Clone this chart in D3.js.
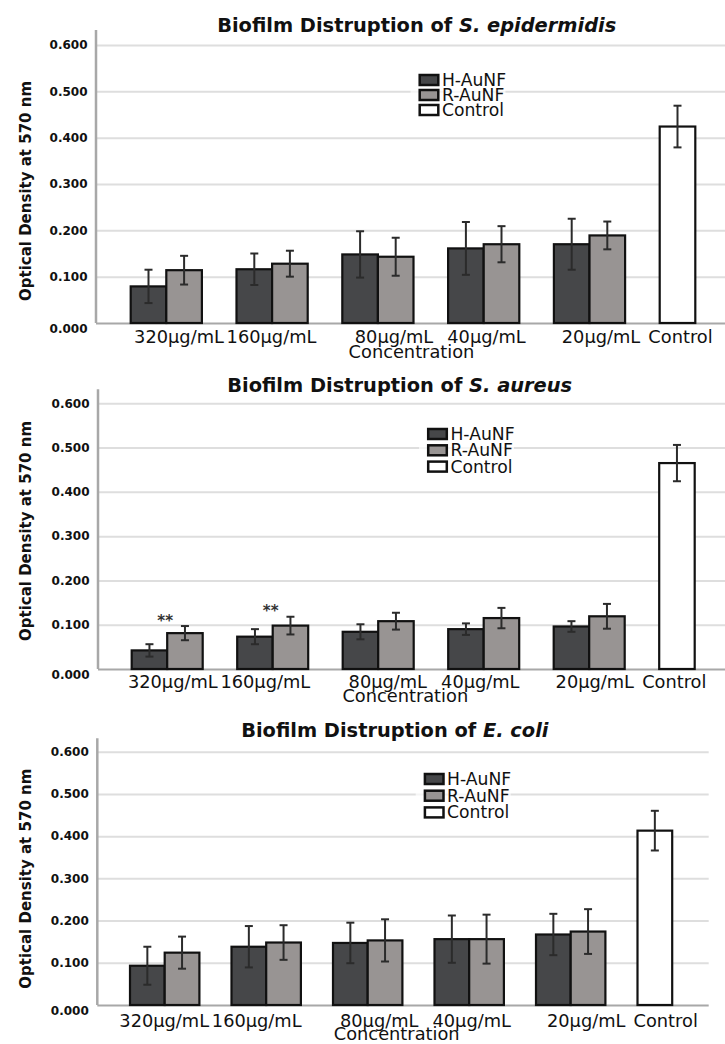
<!DOCTYPE html>
<html>
<head>
<meta charset="utf-8">
<script src="https://cdn.jsdelivr.net/npm/d3@7"></script>
<style>
  body { margin: 0; background: #fff; }
  svg { display: block; font-family: "DejaVu Sans", sans-serif; }
</style>
</head>
<body>
<script>
// categories and tick values
const categories = ["320µg/mL", "160µg/mL", "80µg/mL", "40µg/mL", "20µg/mL", "Control"];
const seriesNames = ["H-AuNF", "R-AuNF", "Control"];
const yTicks = [0, 0.1, 0.2, 0.3, 0.4, 0.5, 0.6];

// S. epidermidis
const epiH = [0.079, 0.116, 0.148, 0.161, 0.170];
const epiHErr = [0.036, 0.034, 0.050, 0.057, 0.055];
const epiR = [0.114, 0.128, 0.143, 0.170, 0.189];
const epiRErr = [0.031, 0.028, 0.041, 0.039, 0.030];
const epiControl = 0.424;
const epiControlErr = 0.045;

// S. aureus
const aurH = [0.042, 0.073, 0.084, 0.090, 0.096];
const aurHErr = [0.014, 0.017, 0.017, 0.013, 0.012];
const aurR = [0.081, 0.098, 0.108, 0.115, 0.119];
const aurRErr = [0.016, 0.020, 0.019, 0.023, 0.028];
const aurControl = 0.465;
const aurControlErr = 0.041;
const aurStars = ["**", "**", "", "", ""];

// E. coli
const colH = [0.093, 0.138, 0.147, 0.156, 0.167];
const colHErr = [0.045, 0.049, 0.048, 0.056, 0.049];
const colR = [0.124, 0.148, 0.153, 0.156, 0.174];
const colRErr = [0.038, 0.041, 0.050, 0.058, 0.053];
const colControl = 0.413;
const colControlErr = 0.047;

const colors = { "H-AuNF": "#464749", "R-AuNF": "#989493", "Control": "#ffffff" };

// layout of each panel (the reference panels are slightly different in size)
const panels = [
  { species: "S. epidermidis", H: epiH, HErr: epiHErr, R: epiR, RErr: epiRErr, ctrl: epiControl, ctrlErr: epiControlErr, stars: null,
    yTop: 45, yBase: 323, axisX: 96, axisTop: 30, right: 725, bandStart: 130.7, step: 105.8, barW: 35.6,
    titleX: 416.7, titleY: 32.3, legX: 418.5, legY: 86, legPitch: 15, labelStart: 179, labelY: 343.3, concY: 358.3, yTitleY: 191 },
  { species: "S. aureus", H: aurH, HErr: aurHErr, R: aurR, RErr: aurRErr, ctrl: aurControl, ctrlErr: aurControlErr, stars: aurStars,
    yTop: 403.3, yBase: 669, axisX: 98, axisTop: 389.3, right: 725, bandStart: 131.7, step: 105.5, barW: 35.5,
    titleX: 399.7, titleY: 391.7, legX: 427, legY: 440, legPitch: 16.3, labelStart: 172.8, labelY: 687.5, concY: 701.7, yTitleY: 531 },
  { species: "E. coli", H: colH, HErr: colHErr, R: colR, RErr: colRErr, ctrl: colControl, ctrlErr: colControlErr, stars: null,
    yTop: 751.7, yBase: 1005, axisX: 97.3, axisTop: 738.3, right: 708.7, bandStart: 130, step: 101.5, barW: 34.7,
    titleX: 394.8, titleY: 736.7, legX: 423.7, legY: 785, legPitch: 16.7, labelStart: 164.2, labelY: 1026.7, concY: 1040, yTitleY: 878.7 }
];
// category labels sit a little unevenly in the original
const labelOffsets = [0, 92.5, 215, 307.5, 422, 501.5];
const concOffset = 232.5;

const svg = d3.select("body").append("svg")
  .attr("width", 725)
  .attr("height", 1044);

panels.forEach(p => {
  const g = svg.append("g");

  const y = d3.scaleLinear().domain([0, 0.6]).range([p.yBase, p.yTop]);

  const pad = 1 - 2 * p.barW / p.step;
  const x0 = p.bandStart - pad * p.step / 2;
  const x = d3.scaleBand()
    .domain(categories)
    .range([x0, x0 + categories.length * p.step])
    .paddingInner(pad)
    .paddingOuter(pad / 2);
  const xs = d3.scaleBand()
    .domain(["H-AuNF", "R-AuNF"])
    .range([0, x.bandwidth()]);

  // gridlines + tick labels
  const yAxis = g.append("g")
    .attr("transform", "translate(" + p.axisX + ",0)")
    .call(d3.axisLeft(y).tickValues(yTicks).tickSize(-(p.right - p.axisX)).tickPadding(8.5).tickFormat(d3.format(".3f")));
  yAxis.select(".domain").remove();
  yAxis.selectAll(".tick line")
    .attr("stroke", d => d === 0 ? "#a8a8a8" : "#dedede")
    .attr("stroke-width", 2);
  yAxis.selectAll(".tick text")
    .attr("font-size", 12)
    .attr("font-weight", "bold")
    .attr("fill", "#111")
    .attr("font-family", "DejaVu Sans")
    .attr("dy", d => d === 0 ? "0.75em" : "0.32em");

  // y axis line
  g.append("line")
    .attr("x1", p.axisX).attr("x2", p.axisX)
    .attr("y1", p.axisTop).attr("y2", p.yBase)
    .attr("stroke", "#a8a8a8")
    .attr("stroke-width", 2.5);

  // bars
  const rows = [];
  p.H.forEach((v, i) => {
    rows.push({ cat: categories[i], s: "H-AuNF", v: v, e: p.HErr[i] });
    rows.push({ cat: categories[i], s: "R-AuNF", v: p.R[i], e: p.RErr[i] });
  });
  rows.push({ cat: "Control", s: "Control", v: p.ctrl, e: p.ctrlErr });
  const bx = d => x(d.cat) + xs(d.s === "Control" ? "H-AuNF" : d.s);

  g.selectAll(".bar")
    .data(rows)
    .enter().append("rect")
    .attr("class", "bar")
    .attr("x", bx)
    .attr("y", d => y(d.v))
    .attr("width", xs.bandwidth())
    .attr("height", d => y(0) - y(d.v))
    .attr("fill", d => colors[d.s])
    .attr("stroke", "#111")
    .attr("stroke-width", 2.2);

  // error bars
  const eb = g.selectAll(".err")
    .data(rows)
    .enter().append("g")
    .attr("class", "err")
    .attr("transform", d => "translate(" + (bx(d) + xs.bandwidth() / 2) + ",0)")
    .attr("stroke", "#2b2b2b")
    .attr("stroke-width", 2);
  eb.append("line").attr("y1", d => y(d.v + d.e)).attr("y2", d => y(d.v - d.e));
  eb.append("line").attr("x1", -4).attr("x2", 4).attr("y1", d => y(d.v + d.e)).attr("y2", d => y(d.v + d.e));
  eb.append("line").attr("x1", -4).attr("x2", 4).attr("y1", d => y(d.v - d.e)).attr("y2", d => y(d.v - d.e));

  // significance marks
  if (p.stars) {
    g.selectAll(".star")
      .data(p.stars.map((s, i) => ({ s: s, cat: categories[i], top: p.R[i] + p.RErr[i] })).filter(d => d.s))
      .enter().append("text")
      .attr("x", d => x(d.cat) + x.bandwidth() / 2 - 2)
      .attr("y", d => y(d.top) - 11)
      .attr("dy", "0.7em")
      .attr("text-anchor", "middle")
      .attr("font-size", 15)
      .attr("font-weight", "bold")
      .attr("fill", "#333")
      .text(d => d.s);
  }

  // category labels
  g.selectAll(".cat")
    .data(categories)
    .enter().append("text")
    .attr("x", (d, i) => p.labelStart + labelOffsets[i])
    .attr("y", p.labelY)
    .attr("text-anchor", "middle")
    .attr("font-size", 17.8)
    .attr("fill", "#111")
    .text(d => d);

  g.append("text")
    .attr("x", p.labelStart + concOffset)
    .attr("y", p.concY)
    .attr("text-anchor", "middle")
    .attr("font-size", 17.8)
    .attr("fill", "#111")
    .text("Concentration");

  // y title
  g.append("text")
    .attr("transform", "translate(31," + p.yTitleY + ") rotate(-90)")
    .attr("text-anchor", "middle")
    .attr("font-size", 15)
    .attr("font-weight", "bold")
    .attr("fill", "#111")
    .text("Optical Density at 570 nm");

  // chart title
  const t = g.append("text")
    .attr("x", p.titleX)
    .attr("y", p.titleY)
    .attr("text-anchor", "middle")
    .attr("font-size", 19.4)
    .attr("font-weight", "bold")
    .attr("fill", "#111");
  t.append("tspan").text("Biofilm Distruption of ");
  t.append("tspan").attr("font-style", "italic").text(p.species);

  // legend
  g.append("rect")
    .attr("x", p.legX - 8)
    .attr("y", p.legY - 15)
    .attr("width", 95)
    .attr("height", p.legPitch * 2 + 19)
    .attr("fill", "#fff")
    .attr("opacity", 0.7);
  const leg = g.selectAll(".leg")
    .data(seriesNames)
    .enter().append("g")
    .attr("transform", (d, i) => "translate(" + p.legX + "," + (p.legY + i * p.legPitch) + ")");
  leg.append("rect")
    .attr("x", 1.2).attr("y", -11)
    .attr("width", 18.6).attr("height", 10)
    .attr("fill", d => colors[d])
    .attr("stroke", "#111")
    .attr("stroke-width", 2.5);
  leg.append("text")
    .attr("x", 23.4)
    .attr("y", 0)
    .attr("font-size", 17.2)
    .attr("fill", "#111")
    .text(d => d);
});
</script>
</body>
</html>
